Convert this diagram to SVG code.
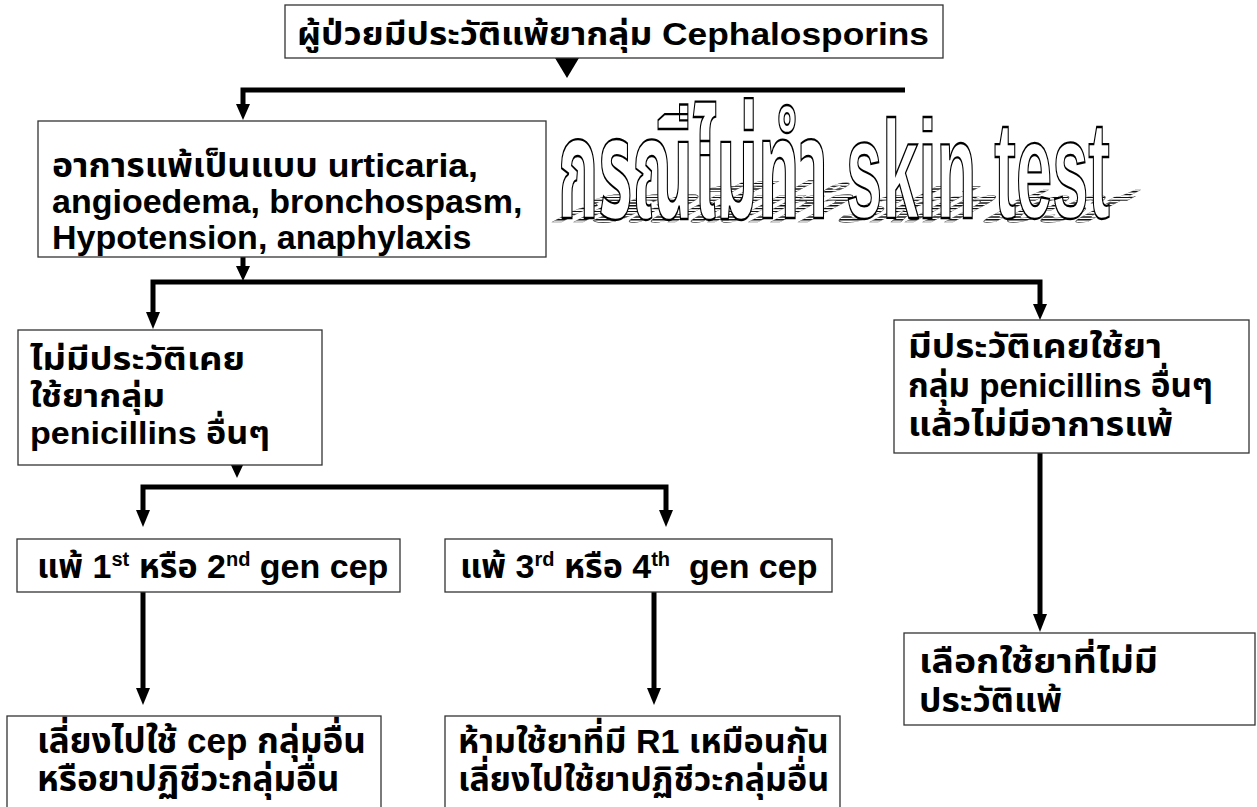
<svg xmlns="http://www.w3.org/2000/svg" width="1257" height="807" viewBox="0 0 1257 807">
<defs>
<style>
.box{fill:#fff;stroke:#333;stroke-width:1.3}
.t{font-family:"Liberation Sans","Noto Sans Thai","DejaVu Sans",sans-serif;font-weight:bold;font-size:33px;fill:#000}
.c{fill:none;stroke:#000;stroke-width:5}
.h{fill:#000}
.wa{font-family:"Liberation Sans","Noto Sans Thai","DejaVu Sans",sans-serif;font-weight:bold;font-size:70px;fill:#fff;stroke:#000;stroke-width:1.8;vector-effect:non-scaling-stroke}
.sh{font-family:"Liberation Sans","Noto Sans Thai","DejaVu Sans",sans-serif;font-weight:bold;font-size:70px;fill:url(#hatch);stroke:#555;stroke-width:0.8;vector-effect:non-scaling-stroke}
</style>
<pattern id="hatch" width="7" height="4" patternUnits="userSpaceOnUse">
<rect width="7" height="1.8" fill="#111"/>
</pattern>
</defs>
<rect width="1257" height="807" fill="#fff"/>

<g id="title-wordart">
<text class="sh" x="0" y="0" transform="translate(548,222) skewX(-62) scale(1,0.7)" textLength="540" lengthAdjust="spacingAndGlyphs">กรณีไม่ทำ skin test</text>
<text class="wa" x="0" y="0" transform="translate(558,218) scale(1,2)" textLength="552" lengthAdjust="spacingAndGlyphs">กรณีไม่ทำ skin test</text>
</g>

<g id="connectors">
<polygon class="h" points="555,58 579,58 567,78"/>
<polyline class="c" points="905,90 243,90 243,106"/>
<polygon class="h" points="236,104 250,104 243,120"/>
<line class="c" x1="243" y1="257" x2="243" y2="268"/>
<polygon class="h" points="236,266 250,266 243,281"/>
<polyline class="c" points="153,316 153,282 1040,282 1040,306"/>
<polygon class="h" points="146,312 160,312 153,329"/>
<polygon class="h" points="1033,304 1047,304 1040,320"/>
<polygon class="h" points="230,463 244,463 237,478"/>
<polyline class="c" points="143,512 143,487 666,487 666,512"/>
<polygon class="h" points="136,510 150,510 143,527"/>
<polygon class="h" points="659,510 673,510 666,527"/>
<line class="c" x1="143" y1="592" x2="143" y2="690"/>
<polygon class="h" points="136,688 150,688 143,705"/>
<line class="c" x1="654" y1="592" x2="654" y2="690"/>
<polygon class="h" points="647,688 661,688 654,705"/>
<line class="c" x1="1040" y1="452" x2="1040" y2="616"/>
<polygon class="h" points="1033,614 1047,614 1040,632"/>
</g>

<g id="n-top">
<rect class="box" x="285" y="5" width="658" height="53"/>
<text class="t" x="297" y="45" style="font-size:32px" textLength="632" lengthAdjust="spacingAndGlyphs">ผู้ป่วยมีประวัติแพ้ยากลุ่ม Cephalosporins</text>
</g>

<g id="n-symptoms">
<rect class="box" x="38" y="121" width="508" height="136"/>
<text class="t" x="52" y="177" style="font-size:34px" textLength="426" lengthAdjust="spacingAndGlyphs">อาการแพ้เป็นแบบ urticaria,</text>
<text class="t" x="52" y="213" style="font-size:34px">angioedema, bronchospasm,</text>
<text class="t" x="52" y="249" style="font-size:34px">Hypotension, anaphylaxis</text>
</g>

<g id="n-no-pen">
<rect class="box" x="18" y="330" width="304" height="135"/>
<text class="t" x="30" y="370" style="font-size:32px" textLength="215" lengthAdjust="spacingAndGlyphs">ไม่มีประวัติเคย</text>
<text class="t" x="30" y="407" style="font-size:32px" textLength="135" lengthAdjust="spacingAndGlyphs">ใช้ยากลุ่ม</text>
<text class="t" x="30" y="444" style="font-size:32px" textLength="240" lengthAdjust="spacingAndGlyphs">penicillins อื่นๆ</text>
</g>

<g id="n-pen-ok">
<rect class="box" x="894" y="320" width="355" height="133"/>
<text class="t" x="908" y="358" textLength="254" lengthAdjust="spacingAndGlyphs">มีประวัติเคยใช้ยา</text>
<text class="t" x="908" y="397" textLength="305" lengthAdjust="spacingAndGlyphs">กลุ่ม penicillins อื่นๆ</text>
<text class="t" x="908" y="436" textLength="265" lengthAdjust="spacingAndGlyphs">แล้วไม่มีอาการแพ้</text>
</g>

<g id="n-gen12">
<rect class="box" x="17" y="539" width="383" height="53"/>
<text class="t" x="37" y="578" style="font-size:34px">แพ้ 1<tspan dy="-12" style="font-size:20px">st</tspan><tspan dy="12"> หรือ 2</tspan><tspan dy="-12" style="font-size:20px">nd</tspan><tspan dy="12"> gen cep</tspan></text>
</g>

<g id="n-gen34">
<rect class="box" x="445" y="539" width="387" height="53"/>
<text class="t" x="460" y="578" style="font-size:34px">แพ้ 3<tspan dy="-12" style="font-size:20px">rd</tspan><tspan dy="12"> หรือ 4</tspan><tspan dy="-12" style="font-size:20px">th</tspan><tspan dy="12">&#160; gen cep</tspan></text>
</g>

<g id="n-avoid-cep">
<rect class="box" x="7" y="716" width="374" height="100"/>
<text class="t" x="37" y="753" style="font-size:35px">เลี่ยงไปใช้ cep กลุ่มอื่น</text>
<text class="t" x="37" y="791" style="font-size:35px">หรือยาปฏิชีวะกลุ่มอื่น</text>
</g>

<g id="n-no-r1">
<rect class="box" x="445" y="716" width="395" height="100"/>
<text class="t" x="458" y="753" style="font-size:34px">ห้ามใช้ยาที่มี R1 เหมือนกัน</text>
<text class="t" x="458" y="791" style="font-size:34px">เลี่ยงไปใช้ยาปฏิชีวะกลุ่มอื่น</text>
</g>

<g id="n-choose">
<rect class="box" x="904" y="633" width="351" height="92"/>
<text class="t" x="919" y="673" textLength="239" lengthAdjust="spacingAndGlyphs">เลือกใช้ยาที่ไม่มี</text>
<text class="t" x="919" y="712" textLength="143" lengthAdjust="spacingAndGlyphs">ประวัติแพ้</text>
</g>
</svg>
